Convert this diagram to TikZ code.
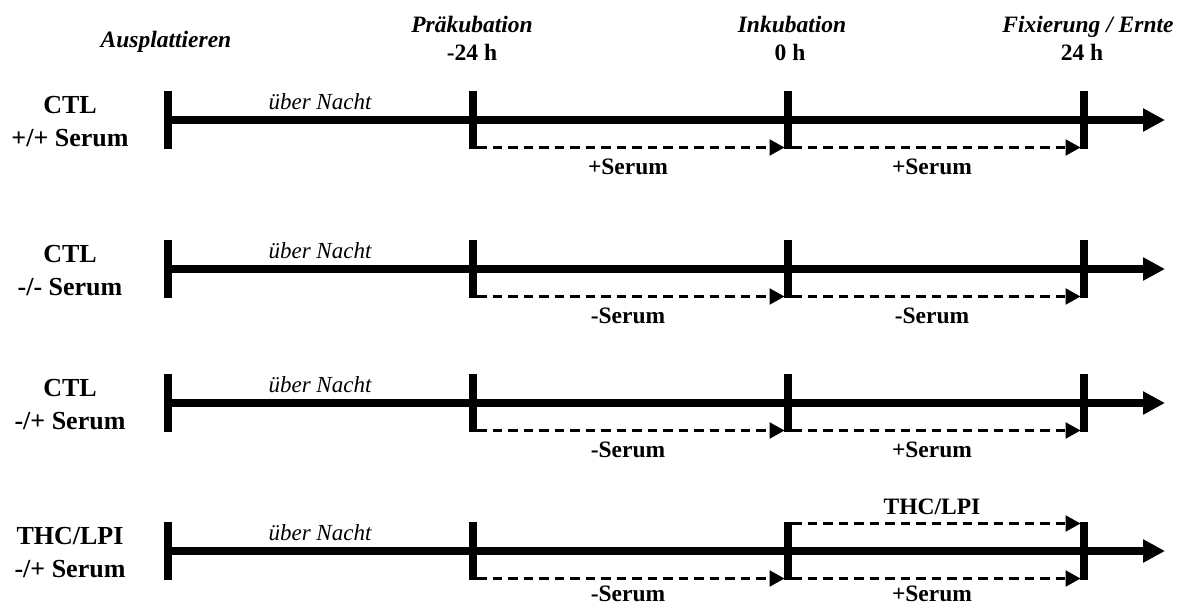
\documentclass[tikz,border=0pt]{standalone}
\usepackage{fontspec}
\setmainfont{Liberation Serif}
\usetikzlibrary{arrows.meta}
\begin{document}
\begin{tikzpicture}[x=1pt,y=-1pt,
  axis/.style={line width=7.5pt,-{Triangle[length=22pt,width=22pt]}},
  tickmark/.style={line width=7.5pt},
  dasharrow/.style={line width=2.5pt,dash pattern=on 9.5pt off 6pt,-{Triangle[length=15pt,width=16pt]}},
  rowlab/.style={font=\fontsize{26}{30}\selectfont\bfseries,anchor=base,inner sep=0pt},
  head/.style={font=\fontsize{23.5}{28}\selectfont\bfseries\itshape,anchor=base,inner sep=0pt},
  headtime/.style={font=\fontsize{23.5}{28}\selectfont\bfseries,anchor=base,inner sep=0pt},
  night/.style={font=\fontsize{23}{28}\selectfont\itshape,anchor=base,inner sep=0pt},
  seglab/.style={font=\fontsize{23.5}{28}\selectfont\bfseries,anchor=base,inner sep=0pt}]
\useasboundingbox (0,0) rectangle (1178,605);

% headers
\node[head] (hA) at (166,47) {Ausplattieren};
\node[head] (hP) at (472,32) {Präkubation};
\node[headtime] (hP2) at (472,60) {-24 h};
\node[head] (hI) at (792,32) {Inkubation};
\node[headtime] (hI2) at (790,60) {0 h};
\node[head] (hF) at (1088,32) {Fixierung / Ernte};
\node[headtime] (hF2) at (1082,60) {24 h};

\foreach \r/\y/\la/\lb/\sa/\sb/\o in {1/120/CTL/{+/+ Serum}/{+Serum}/{+Serum}/54,
                                   2/269/CTL/{-/- Serum}/{-Serum}/{-Serum}/54,
                                   3/403/CTL/{-/+ Serum}/{-Serum}/{+Serum}/54,
                                   4/551/{THC/LPI}/{-/+ Serum}/{-Serum}/{+Serum}/50}{
  % tick coordinates
  \foreach \c/\x in {a/168,b/473,c/788,d/1084}{
    \coordinate (t\r\c) at (\x,\y);
    \coordinate (t\r\c top) at (\x,\y-29);
    \coordinate (t\r\c bot) at (\x,\y+29);
  }
  \coordinate (e\r) at (1165,\y);
  \coordinate (s\r b) at (477,\y+27.5);
  \coordinate (s\r c) at (784.5,\y+27.5);
  \coordinate (u\r c) at (792,\y+27.5);
  \coordinate (u\r d) at (1080.5,\y+27.5);
  % main axis
  \draw[axis] (t\r a) -- (e\r);
  \foreach \c in {a,b,c,d}{
    \draw[tickmark] (t\r\c top) -- (t\r\c bot);
  }
  % dashed arrows
  \draw[dasharrow] (s\r b) -- (s\r c);
  \draw[dasharrow] (u\r c) -- (u\r d);
  % labels
  \node[rowlab] (la\r) at (70,\y-7) {\la};
  \node[rowlab] (lb\r) at (70,\y+26) {\lb};
  \node[night] (n\r) at (320,\y-11) {über Nacht};
  \node[seglab] (sa\r) at (628,\y+\o) {\sa};
  \node[seglab] (sb\r) at (932,\y+\o) {\sb};
}
% THC/LPI treatment
\coordinate (v1) at (792,551-27.5);
\coordinate (v2) at (1080.5,551-27.5);
\draw[dasharrow] (v1) -- (v2);
\node[seglab] (thc) at (932,514) {THC/LPI};
\end{tikzpicture}
\end{document}
